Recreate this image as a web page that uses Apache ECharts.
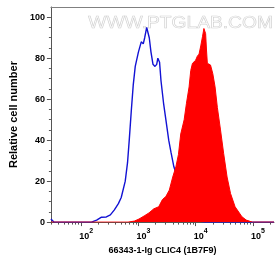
<!DOCTYPE html>
<html>
<head>
<meta charset="utf-8">
<script src="https://cdn.jsdelivr.net/npm/echarts@6/dist/echarts.min.js"></script>
<style>
	html,body{margin:0;padding:0;background:#fff;}
	#chart{width:277px;height:260px;}
</style>
</head>
<body>
<div id="chart"></div>
<script>
	// x values are log10 of the intensity, y is relative cell number
	var isoX = [1.471, 1.523, 2.18, 2.27, 2.355, 2.44, 2.51, 2.58, 2.65, 2.70, 2.77, 2.81, 2.84, 2.875, 2.91, 2.945,
		3.00, 3.05, 3.085, 3.11, 3.145, 3.19, 3.22, 3.255, 3.29, 3.32, 3.34, 3.37, 3.395, 3.44, 3.48, 3.53,
		3.57, 3.62, 3.655, 3.71, 3.78, 3.85, 3.93, 4.04, 4.18, 5.37];
	var isoY = [1.5, 0, 0, 1, 2.4, 2.5, 3.5, 6, 9, 12, 20, 29, 40, 54, 67, 76,
		83, 88, 87, 90, 95, 90, 83, 77, 76, 77, 80, 78, 69, 58, 50, 40,
		34, 27, 24, 17, 9, 4, 1.5, 0.5, 0, 0];

	var stainX = [1.471, 2.82, 2.93, 3.01, 3.10, 3.185, 3.27, 3.355, 3.42, 3.48, 3.54, 3.60, 3.655, 3.70, 3.74,
		3.80, 3.84, 3.886, 3.915, 3.945, 3.97, 4.00, 4.03, 4.06, 4.09, 4.12, 4.145, 4.175, 4.19, 4.205,
		4.235, 4.26, 4.30, 4.34, 4.38, 4.435, 4.49, 4.55, 4.61, 4.69, 4.81, 4.885, 4.99, 5.37];
	var stainY = [0, 0, 0.5, 1.5, 3, 4.5, 6.5, 7.5, 11, 12.5, 15.6, 22, 27, 33, 43,
		50, 58, 66, 74, 77.5, 78, 79, 81, 82, 86, 90.5, 94.5, 92, 84, 77.5,
		77, 76.7, 72.5, 66, 56, 45, 33.5, 22, 14, 7.5, 2.6, 1, 0, 0];

	var decades = [2, 3, 4, 5];          //10^n label positions
	var yTicks = [0, 20, 40, 60, 80, 100];
	var xName = '66343-1-Ig CLIC4 (1B7F9)';
	var yName = 'Relative cell number';
	var watermark = 'WWW.PTGLAB.COM';

	var xMin = 1.471, xMax = 5.37;
	var yMin = 0, yMax = 105;

	function zip(xs, ys){
		var out = [];
		for (var i = 0; i < xs.length; i++) out.push([xs[i], ys[i]]);
		return out;
	}

	// minor ticks: log10 of 2..9 inside every decade
	var minorX = [];
	for (var d = 1; d <= 5; d++) {
		for (var k = 2; k <= 9; k++) {
			var v = d + Math.log10(k);
			if (v > xMin && v < xMax) minorX.push(v);
		}
	}
	var minorY = [];
	for (var m = 5; m < 100; m += 5) {
		if (m % 20 !== 0) minorY.push(m);
	}

	var FONT = 'Arial, "Liberation Sans", sans-serif';
	var AXIS_COLOR = '#555';

	var myChart = echarts.init(document.getElementById('chart'), null, {renderer: 'canvas'});

	var option = {
		animation: false,
		backgroundColor: '#fff',
		grid: {left: 49, right: 3, top: 7, bottom: 37},
		graphic: [{
			type: 'text',
			left: 88,
			top: 15,
			z: -1,
			scaleX: 1.2,
			style: {
				text: watermark,
				font: '16px ' + FONT,
				fill: 'rgba(0,0,0,0)',
				stroke: '#d2d2d2',
				lineWidth: 0.6
			}
		}],
		xAxis: [
			{
				type: 'value', min: xMin, max: xMax, position: 'bottom',
				axisLine: {onZero: false, lineStyle: {color: AXIS_COLOR, width: 1}},
				axisTick: {customValues: decades, length: 4, lineStyle: {color: AXIS_COLOR}},
				axisLabel: {
					customValues: decades,
					margin: 5,
					padding: [0, 0, 0, 10],
					formatter: function(v){ return '{b|10}{s|' + v + '}'; },
					rich: {
						b: {fontSize: 9, fontWeight: 'bold', fontFamily: FONT, color: '#000', lineHeight: 14, verticalAlign: 'bottom'},
						s: {fontSize: 7, fontWeight: 'bold', fontFamily: FONT, color: '#000', lineHeight: 14, verticalAlign: 'top'}
					}
				},
				splitLine: {show: false},
				name: xName,
				nameLocation: 'middle',
				nameGap: 23,
				nameTextStyle: {fontSize: 9, fontWeight: 'bold', fontFamily: FONT, color: '#000'}
			},
			{
				type: 'value', min: xMin, max: xMax, position: 'bottom',
				axisLine: {show: false},
				axisTick: {customValues: minorX, length: 2.5, lineStyle: {color: AXIS_COLOR}},
				axisLabel: {show: false},
				splitLine: {show: false}
			},
			{
				type: 'value', min: xMin, max: xMax, position: 'top',
				axisLine: {show: true, onZero: false, lineStyle: {color: '#808080', width: 1}},
				axisTick: {show: false},
				axisLabel: {show: false},
				splitLine: {show: false}
			}
		],
		yAxis: [
			{
				type: 'value', min: yMin, max: yMax, position: 'left',
				axisLine: {show: true, onZero: false, lineStyle: {color: AXIS_COLOR, width: 1}},
				axisTick: {show: true, customValues: yTicks, length: 4, lineStyle: {color: AXIS_COLOR}},
				axisLabel: {customValues: yTicks, margin: 6, fontSize: 9, fontWeight: 'bold', fontFamily: FONT, color: '#000'},
				splitLine: {show: false},
				name: yName,
				nameLocation: 'middle',
				nameGap: 27,
				nameTextStyle: {fontSize: 11, fontWeight: 'bold', fontFamily: FONT, color: '#000'}
			},
			{
				type: 'value', min: yMin, max: yMax, position: 'left',
				axisLine: {show: false},
				axisTick: {show: true, customValues: minorY, length: 2, lineStyle: {color: AXIS_COLOR}},
				axisLabel: {show: false},
				splitLine: {show: false}
			}
		],
		series: [
			{
				name: 'isotype',
				type: 'line',
				data: zip(isoX, isoY),
				showSymbol: false,
				lineStyle: {color: '#1212d4', width: 1.4},
				z: 2
			},
			{
				name: 'CLIC4',
				type: 'line',
				data: zip(stainX, stainY),
				showSymbol: false,
				lineStyle: {color: '#ff0000', width: 1},
				areaStyle: {color: '#ff0000', opacity: 1},
				z: 3
			}
		]
	};

	myChart.setOption(option, true);
</script>
</body>
</html>
